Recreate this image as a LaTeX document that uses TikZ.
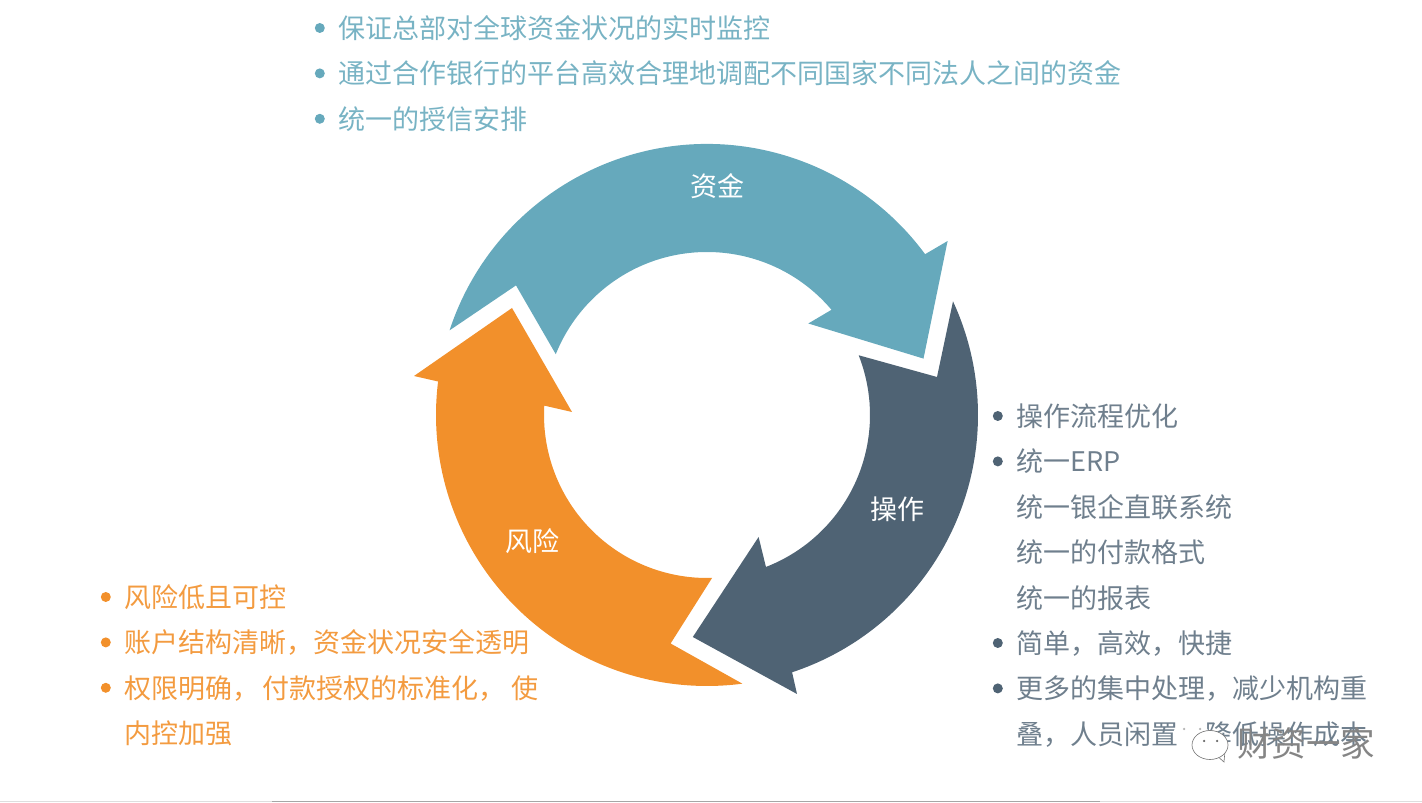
\documentclass[tikz,border=0pt]{standalone}
\usepackage{fontspec}
\setmainfont{Noto Sans CJK SC}
\usepackage{tikz}
\usetikzlibrary{positioning,shapes.geometric}
\definecolor{fundteal}{HTML}{66A9BC}
\definecolor{opslate}{HTML}{4F6374}
\definecolor{riskorange}{HTML}{F2902B}

\begin{document}
\begin{tikzpicture}[
  x=1pt, y=1pt,
  item/.style={font=\fontsize{27}{27}\selectfont, inner sep=0pt,
               text height=24pt, text depth=3pt, minimum height=45pt,
               anchor=west},
  fundtxt/.style={item, text=fundteal!88!white},
  opstxt/.style={item, text=opslate!82!white},
  risktxt/.style={item, text=riskorange!90!white},
  dot/.style={circle, inner sep=0pt, minimum size=10pt},
  label/.style={font=\fontsize{27}{27}\selectfont, text=white, inner sep=0pt},
  bubble/.style={line width=0.6pt, fill=white, inner sep=0pt, ellipse},
  eye/.style={circle, inner sep=0pt, minimum size=2.5pt}
]
  \useasboundingbox (0,0) rectangle (1422,803);

  % Ring arrows
  \begin{scope}[shift={(707,388)}]
    \fill[fundteal] (161.8:271) arc[start angle=161.8, end angle=36.4, radius=271]
      -- (240.6,174) -- (216.5,56.4) -- (101.3,91.5) -- (40.2:163)
      arc[start angle=40.2, end angle=158.1, radius=163]
      -- (-191,129.6) -- cycle;
    \fill[opslate] (24.8:271) arc[start angle=24.8, end angle=-71.7, radius=271]
      -- (90,-279) -- (-14.2,-222) -- (51.6,-122) -- (-68.8:163)
      arc[start angle=-68.8, end angle=21.5, radius=163]
      -- (230,38) -- cycle;
    \fill[riskorange] (-82.5:271) arc[start angle=-82.5, end angle=-187.1, radius=271]
      -- (-293,39) -- (-195,107) -- (-135,3) -- (176.7:163)
      arc[start angle=-183.3, end angle=-88.2, radius=163]
      -- (-36.4,-228.5) -- cycle;
  \end{scope}

  % Ring labels
  \node[label] (fundlbl) at (717,617) {资金};
  \node[label] (opslbl) at (897,294) {操作};
  \node[label] (risklbl) at (532,262) {风险};

  % Fund list
  \node[fundtxt] (f1) at (338,775) {保证总部对全球资金状况的实时监控};
  \node[fundtxt, below=0pt of f1.south west, anchor=north west] (f2) {通过合作银行的平台高效合理地调配不同国家不同法人之间的资金};
  \node[fundtxt, below=0pt of f2.south west, anchor=north west] (f3) {统一的授信安排};
  \node[dot, fill=fundteal, left=13pt of f1] (fd1) {};
  \node[dot, fill=fundteal, left=13pt of f2] (fd2) {};
  \node[dot, fill=fundteal, left=13pt of f3] (fd3) {};

  % Operations list
  \node[opstxt] (o1) at (1016,387) {操作流程优化};
  \node[opstxt, below=0pt of o1.south west, anchor=north west] (o2) {统一ERP};
  \node[opstxt, below=0pt of o2.south west, anchor=north west] (o3) {统一银企直联系统};
  \node[opstxt, below=0pt of o3.south west, anchor=north west] (o4) {统一的付款格式};
  \node[opstxt, below=0pt of o4.south west, anchor=north west] (o5) {统一的报表};
  \node[opstxt, below=0pt of o5.south west, anchor=north west] (o6) {简单，高效，快捷};
  \node[opstxt, below=0pt of o6.south west, anchor=north west] (o7) {更多的集中处理，减少机构重};
  \node[opstxt, below=0pt of o7.south west, anchor=north west] (o8) {叠，人员闲置，降低操作成本};
  \node[dot, fill=opslate, left=13pt of o1] (od1) {};
  \node[dot, fill=opslate, left=13pt of o2] (od2) {};
  \node[dot, fill=opslate, left=13pt of o6] (od6) {};
  \node[dot, fill=opslate, left=13pt of o7] (od7) {};

  % Risk list
  \node[risktxt] (r1) at (124,206) {风险低且可控};
  \node[risktxt, below=0pt of r1.south west, anchor=north west] (r2) {账户结构清晰，资金状况安全透明};
  \node[risktxt, below=0pt of r2.south west, anchor=north west] (r3) {权限明确，\hspace{3pt}付款授权的标准化，\hspace{6pt}使};
  \node[risktxt, below=0pt of r3.south west, anchor=north west] (r4) {内控加强};
  \node[dot, fill=riskorange, left=13pt of r1] (rd1) {};
  \node[dot, fill=riskorange, left=13pt of r2] (rd2) {};
  \node[dot, fill=riskorange, left=13pt of r3] (rd3) {};

  % Watermark
  \fill[white] (1180,62) -- (1176,50) -- (1190,56) -- cycle;
  \node[bubble, minimum width=36pt, minimum height=28pt] (wmback) at (1191,68) {};
  \node[eye, fill=black!30] (wme3) at (1184,74) {};
  \node[eye, fill=black!30] (wme4) at (1200,74) {};
  \draw[black!55, line width=0.6pt, fill=white] (1216,48) -- (1224,41) -- (1225,52);
  \node[bubble, draw=black!55, minimum width=36pt, minimum height=29pt] (wmfront) at (1210,58) {};
  \node[eye, fill=black!60] (wme1) at (1204,62) {};
  \node[eye, fill=black!60] (wme2) at (1217,62) {};
  \node[font=\fontsize{34.5}{34.5}\selectfont, text=black!48, inner sep=0pt, anchor=west] (wmtext) at (1237,60) {财资一家};

  % Bottom rule
  \fill[black!13] (0,0.5) rectangle (1422,2);
  \fill[black!35] (272,0.5) rectangle (1100,2);
\end{tikzpicture}
\end{document}
